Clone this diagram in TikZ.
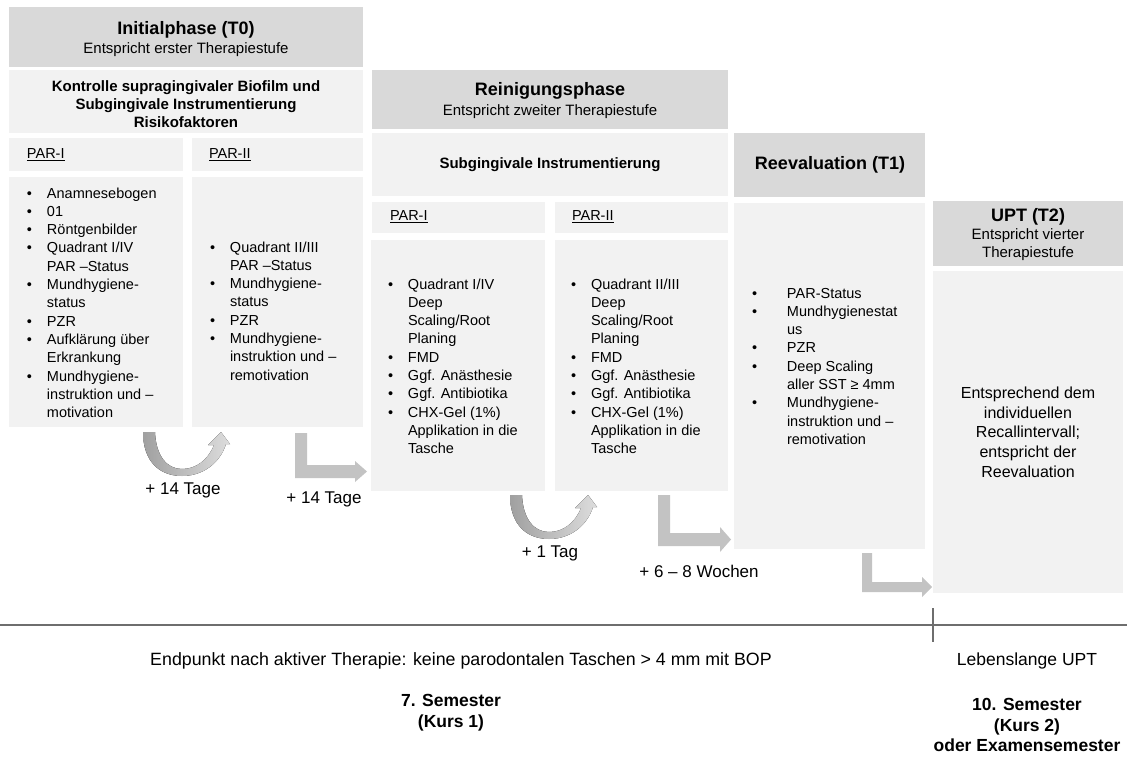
\documentclass[tikz,border=0pt]{standalone}
\usepackage{fontspec}
\setmainfont{Liberation Sans}
\definecolor{hdr}{HTML}{D9D9D9}
\definecolor{lt}{HTML}{F2F2F2}
\definecolor{arr}{HTML}{C3C3C3}
\definecolor{udark}{HTML}{A0A0A0}
\definecolor{ulight}{HTML}{DDDDDD}
\definecolor{rulec}{HTML}{6E6E6E}
\newcommand\bu{\makebox[20pt][l]{\textbullet}}
\newcommand\ind{\hspace*{20pt}}
\newcommand\bw{\makebox[35pt][l]{\textbullet}}
\newcommand\iw{\hspace*{35pt}}
\newcommand\bx[6]{\node[#1,minimum width={#5pt-#3pt},minimum height={#6pt-#4pt}] (#2) at (#3,#4) {};}
\newcommand\uarrow[1]{\fill[left color=udark,right color=ulight,shift={#1}]
  (143,432) .. controls (143,462) and (160,476) .. (182,476)
  .. controls (203,476) and (220,463) .. (226,444) -- (230,444) -- (221,432) -- (208,445) -- (214,445)
  .. controls (208,460) and (196,469) .. (182,469)
  .. controls (167,469) and (156,456) .. (155,432) -- cycle;}
\begin{document}
\begin{tikzpicture}[x=1pt,y=-1pt,
  hbox/.style={fill=hdr,anchor=north west,inner sep=0,outer sep=0},
  lbox/.style={fill=lt,anchor=north west,inner sep=0,outer sep=0},
  txt/.style={inner sep=0,outer sep=0,text=black},
  ttl/.style={txt,font=\fontsize{18}{21}\selectfont\bfseries},
  sub/.style={txt,align=center,font=\fontsize{15}{18}\selectfont},
  bsub/.style={txt,align=center,font=\fontsize{15}{18}\selectfont\bfseries},
  parh/.style={txt,anchor=west,font=\fontsize{14.5}{18}\selectfont},
  lst/.style={txt,align=left,anchor=base west,font=\fontsize{14.5}{18.3}\selectfont},
  tlab/.style={txt,font=\fontsize{17}{20}\selectfont},
  arrshape/.style={fill=arr}]
\useasboundingbox (0,0) rectangle (1127,758);
% boxes
\bx{hbox}{ih}{9}{7}{363}{67}
\bx{lbox}{ik}{9}{70}{363}{133}
\bx{lbox}{ip1h}{9}{138}{183}{171}
\bx{lbox}{ip2h}{192}{138}{363}{171}
\bx{lbox}{ip1}{9}{177}{183}{427}
\bx{lbox}{ip2}{192}{177}{363}{427}
\bx{hbox}{rh}{372}{70}{728}{129}
\bx{lbox}{rs}{372}{133}{728}{196}
\bx{lbox}{rp1h}{372}{202}{545}{233}
\bx{lbox}{rp2h}{555}{202}{728}{233}
\bx{lbox}{rp1}{371}{240}{545}{491}
\bx{lbox}{rp2}{555}{240}{728}{491}
\bx{hbox}{eh}{734}{133}{925}{197}
\bx{lbox}{ec}{734}{203}{925}{549}
\bx{hbox}{uh}{933}{201}{1123}{266}
\bx{lbox}{uc}{933}{271}{1123}{593}
% headers
\node[ttl] (iht) at (186,30) {Initialphase (T0)};
\node[sub] (ihs) at (186,50) {Entspricht erster Therapiestufe};
\node[bsub] (ikt) at (186,104) {Kontrolle supragingivaler Biofilm und\\Subgingivale Instrumentierung\\Risikofaktoren};
\node[parh] (ip1t) at (27,155) {\underline{PAR-I}};
\node[parh] (ip2t) at (209,155) {\underline{PAR-II}};
\node[ttl] (rht) at (550,91) {Reinigungsphase};
\node[sub] (rhs) at (550,112) {Entspricht zweiter Therapiestufe};
\node[bsub] (rst) at (550,165) {Subgingivale Instrumentierung};
\node[parh] (rp1t) at (390,217) {\underline{PAR-I}};
\node[parh] (rp2t) at (572,217) {\underline{PAR-II}};
\node[ttl] (eht) at (830,165) {Reevaluation (T1)};
\node[ttl] (uht) at (1028,217) {UPT (T2)};
\node[sub] (uhs) at (1028,245) {Entspricht vierter\\Therapiestufe};
% lists (base anchor = baseline of last line)
\node[lst] (l1) at (27,417.6) {\bu Anamnesebogen\\\bu 01\\\bu Röntgenbilder\\\bu Quadrant I/IV\\\ind PAR –Status\\\bu Mundhygiene-\\\ind status\\\bu PZR\\\bu Aufklärung über\\\ind Erkrankung\\\bu Mundhygiene-\\\ind instruktion und –\\\ind motivation};
\node[lst] (l2) at (210,380.1) {\bu Quadrant II/III\\\ind PAR –Status\\\bu Mundhygiene-\\\ind status\\\bu PZR\\\bu Mundhygiene-\\\ind instruktion und –\\\ind remotivation};
\node[lst] (l3) at (388,453.7) {\bu Quadrant I/IV\\\ind Deep\\\ind Scaling/Root\\\ind Planing\\\bu FMD\\\bu Ggf. Anästhesie\\\bu Ggf. Antibiotika\\\bu CHX-Gel (1\%)\\\ind Applikation in die\\\ind Tasche};
\node[lst] (l4) at (571,453.7) {\bu Quadrant II/III\\\ind Deep\\\ind Scaling/Root\\\ind Planing\\\bu FMD\\\bu Ggf. Anästhesie\\\bu Ggf. Antibiotika\\\bu CHX-Gel (1\%)\\\ind Applikation in die\\\ind Tasche};
\node[lst] (l5) at (752,444.4) {\bw PAR-Status\\\bw Mundhygienestat\\\iw us\\\bw PZR\\\bw Deep Scaling\\\iw aller SST ≥ 4mm\\\bw Mundhygiene-\\\iw instruktion und –\\\iw remotivation};
\node[txt,align=center,font=\fontsize{16}{19.7}\selectfont] (ut) at (1028,432) {Entsprechend dem\\individuellen\\Recallintervall;\\entspricht der\\Reevaluation};
% arrows
\uarrow{(0,0)}
\uarrow{(367,63)}
\fill[arrshape] (295,433) -- (307,433) -- (307,465) -- (355,465) -- (355,461) -- (367,471.5) -- (355,482) -- (355,478) -- (295,478) -- cycle;
\fill[arrshape] (658,495) -- (670,495) -- (670,533) -- (720,533) -- (720,527) -- (731,539.5) -- (720,552) -- (720,546) -- (658,546) -- cycle;
\fill[arrshape] (862,553) -- (872,553) -- (872,582) -- (922,582) -- (922,577) -- (932,587) -- (922,597) -- (922,592) -- (862,592) -- cycle;
\node[tlab] (d1) at (183,490) {+ 14 Tage};
\node[tlab] (d2) at (324,499) {+ 14 Tage};
\node[tlab] (d3) at (550,553) {+ 1 Tag};
\node[tlab] (d4) at (699,571) {+ 6 – 8 Wochen};
% timeline
\coordinate (la) at (0,625);
\coordinate (lb) at (1127,625);
\coordinate (ta) at (933,608);
\coordinate (tb) at (933,642);
\draw[rulec,line width=1.3pt] (la) -- (lb);
\draw[rulec,line width=1.1pt] (ta) -- (tb);
\node[txt,font=\fontsize{17.8}{20}\selectfont] (ep) at (461,661) {Endpunkt nach aktiver Therapie: keine parodontalen Taschen > 4 mm mit BOP};
\node[txt,align=center,font=\fontsize{17.5}{21}\selectfont\bfseries] (s7) at (451,713) {7. Semester\\(Kurs 1)};
\node[txt,font=\fontsize{17.5}{20}\selectfont] (lu) at (1027,661) {Lebenslange UPT};
\node[txt,align=center,font=\fontsize{17.5}{20.5}\selectfont\bfseries] (s10) at (1027,725) {10. Semester\\(Kurs 2)\\oder Examensemester};
\end{tikzpicture}
\end{document}
